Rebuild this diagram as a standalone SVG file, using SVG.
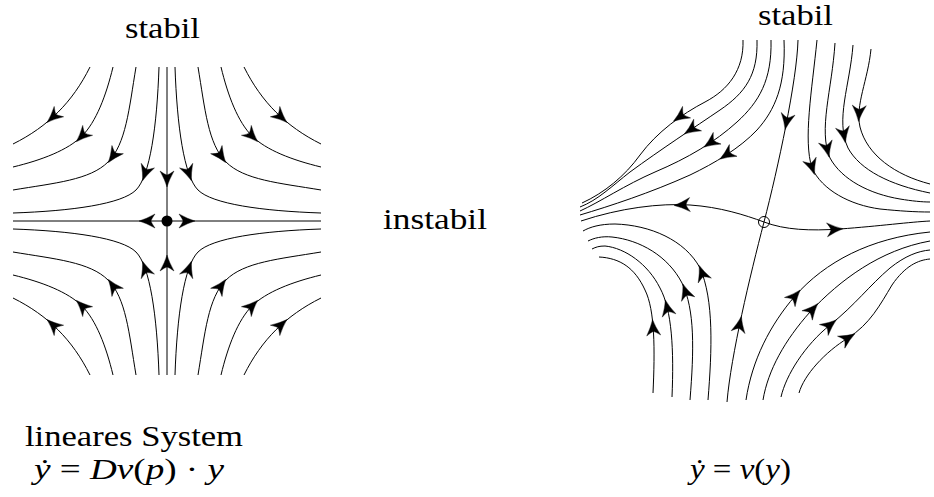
<svg xmlns="http://www.w3.org/2000/svg" xmlns:xlink="http://www.w3.org/1999/xlink" width="934" height="497" viewBox="0 0 934 497">
<style>
.c{fill:none;stroke:#000;stroke-width:1}
.ah{fill:#000;stroke:#000;stroke-width:0.4;stroke-linejoin:miter}
.t{font-family:"Liberation Serif","Times New Roman",serif;font-size:29px;fill:#000}
.i{font-style:italic}
</style>
<defs>
<path id="ah" class="ah" d="M8,0 Q1,2 -8,7 Q-4.5,2.2 -4,0 Q-4.5,-2.2 -8,-7 Q1,-2 8,0 Z"/>
<g id="quad">
<path class="c" d="M-77,-154 C-85.9,-136.2 -96.3,-121.5 -108.9,-108.9 C-121.5,-96.3 -136.2,-85.9 -154,-77"/>
<path class="c" d="M-54,-154 C-61,-125 -71,-99 -85,-85 C-99,-71 -125,-61 -154,-54"/>
<path class="c" d="M-31,-154 C-38,-112 -41,-77 -59,-59 C-77,-41 -112,-38 -154,-31"/>
<path class="c" d="M-8,-154 C-10,-95 -17,-45 -31,-31 C-45,-17 -95,-10 -154,-8"/>
<use xlink:href="#ah" href="#ah" transform="translate(-114,-104) rotate(137.6)"/>
<use xlink:href="#ah" href="#ah" transform="translate(-85,-85) rotate(135)"/>
<use xlink:href="#ah" href="#ah" transform="translate(-54,-64.9) rotate(125.5)"/>
<use xlink:href="#ah" href="#ah" transform="translate(-21.8,-47.8) rotate(109.3)"/>
</g>
</defs>
<rect width="934" height="497" fill="#fff"/>

<g id="linear-portrait">
<g id="left-axes">
<line class="c" x1="13" y1="221" x2="321" y2="221"/>
<line class="c" x1="167" y1="67" x2="167" y2="375"/>
</g>
<g id="left-curves">
<use xlink:href="#quad" href="#quad" transform="translate(167,221)"/>
<use xlink:href="#quad" href="#quad" transform="translate(167,221) scale(-1,1)"/>
<use xlink:href="#quad" href="#quad" transform="translate(167,221) scale(1,-1)"/>
<use xlink:href="#quad" href="#quad" transform="translate(167,221) scale(-1,-1)"/>
</g>
<g id="left-axis-arrows">
<use xlink:href="#ah" href="#ah" transform="translate(167,179) rotate(90)"/>
<use xlink:href="#ah" href="#ah" transform="translate(167,263) rotate(-90)"/>
<use xlink:href="#ah" href="#ah" transform="translate(147,221) rotate(180)"/>
<use xlink:href="#ah" href="#ah" transform="translate(187,221)"/>
</g>
<g id="left-point"><circle cx="167" cy="221" r="5.5" fill="#000"/></g>
</g>

<g id="nonlinear-portrait">
<g id="manifolds">
<path class="c" d="M798,40 C797,80 778,168 764,222 C750,276 731,355 727,402"/>
<path class="c" d="M581,221 C620,208 660,203 690,205 C720,207 745,215 764,222 C785,230 810,231 840,229 C880,226 910,222 930,221"/>
</g>
<g id="top-left-flow">
<path class="c" d="M743,40 C744,70 728,90 705,102 C682,114 657,132 640,155 C625,176 604,193 582,203"/>
<path class="c" d="M757,40 C758,75 745,93 720,110 C695,127 660,150 630,172 C612,186 598,200 580,207"/>
<path class="c" d="M771,40 C772,80 759,102 737,122 C715,142 688,158 655,172 C625,185 600,202 580,211"/>
<path class="c" d="M784,40 C786,85 775,110 757,130 C740,148 715,163 690,175 C650,193 610,206 580,215"/>
</g>
<g id="top-right-flow">
<path class="c" d="M817,40 C812,90 803,140 812,168 C822,190 850,205 880,209 C900,211 915,212 930,212"/>
<path class="c" d="M835,43 C832,90 818,130 830,158 C842,180 870,194 900,199 C912,201 922,202 930,202"/>
<path class="c" d="M853,45 C850,85 835,120 848,148 C860,170 890,185 930,193"/>
<path class="c" d="M871,49 C868,80 855,105 860,127 C867,155 895,175 930,184"/>
</g>
<g id="bottom-left-flow">
<path class="c" d="M708,400 C712,350 714,300 700,268 C685,240 650,225 615,224 C600,224 590,227 583,231"/>
<path class="c" d="M690,400 C694,350 695,310 682,283 C668,256 640,240 612,237 C602,236 594,238 588,241"/>
<path class="c" d="M672,397 C674,350 672,310 660,288 C648,264 625,248 605,246 C599,246 596,247 592,249"/>
<path class="c" d="M653,393 C655,350 655,310 645,290 C635,268 620,258 599,257"/>
</g>
<g id="bottom-right-flow">
<path class="c" d="M746,400 C752,360 770,325 795,296 C825,262 870,238 930,232"/>
<path class="c" d="M763,400 C768,370 785,340 810,312 C840,280 880,250 930,241"/>
<path class="c" d="M781,397 C786,375 805,345 830,325 C855,305 870,285 890,268 C905,256 918,251 930,250"/>
<path class="c" d="M799,393 C804,375 825,352 848,338 C870,324 880,305 892,285 C905,266 918,260 930,259"/>
</g>
<g id="right-arrows">
<use xlink:href="#ah" href="#ah" transform="translate(786.6,121.7) rotate(100.9)"/>
<use xlink:href="#ah" href="#ah" transform="translate(739.7,324.3) rotate(-78.2)"/>
<use xlink:href="#ah" href="#ah" transform="translate(682,205) rotate(177)"/>
<use xlink:href="#ah" href="#ah" transform="translate(835,229.3) rotate(-4)"/>
<use xlink:href="#ah" href="#ah" transform="translate(680,116.7) rotate(145.2)"/>
<use xlink:href="#ah" href="#ah" transform="translate(691,129.5) rotate(146)"/>
<use xlink:href="#ah" href="#ah" transform="translate(710.5,142.7) rotate(146.2)"/>
<use xlink:href="#ah" href="#ah" transform="translate(726.5,154.8) rotate(146.9)"/>
<use xlink:href="#ah" href="#ah" transform="translate(812,167) rotate(72)"/>
<use xlink:href="#ah" href="#ah" transform="translate(827.2,149.3) rotate(76.7)"/>
<use xlink:href="#ah" href="#ah" transform="translate(843.9,134.9) rotate(79.6)"/>
<use xlink:href="#ah" href="#ah" transform="translate(858.9,113.4) rotate(92.7)"/>
<use xlink:href="#ah" href="#ah" transform="translate(702,273) rotate(-110.2)"/>
<use xlink:href="#ah" href="#ah" transform="translate(685.5,291.5) rotate(-109.2)"/>
<use xlink:href="#ah" href="#ah" transform="translate(667.2,307.7) rotate(-103.7)"/>
<use xlink:href="#ah" href="#ah" transform="translate(653.1,327.5) rotate(-94.3)"/>
<use xlink:href="#ah" href="#ah" transform="translate(795,296) rotate(-49.2)"/>
<use xlink:href="#ah" href="#ah" transform="translate(812.5,309.5) rotate(-48)"/>
<use xlink:href="#ah" href="#ah" transform="translate(830,325) rotate(-38.7)"/>
<use xlink:href="#ah" href="#ah" transform="translate(848,338) rotate(-31.3)"/>
</g>
<g id="right-point"><circle cx="764" cy="222" r="5.5" fill="none" stroke="#000" stroke-width="1"/></g>
</g>

<g id="labels">
<text class="t" x="125" y="38" textLength="75" lengthAdjust="spacingAndGlyphs">stabil</text>
<text class="t" x="383" y="229" textLength="104" lengthAdjust="spacingAndGlyphs">instabil</text>
<text class="t" x="758" y="25" textLength="75" lengthAdjust="spacingAndGlyphs">stabil</text>
<text class="t" x="25" y="446" textLength="218" lengthAdjust="spacingAndGlyphs">lineares System</text>
<text class="t" x="34" y="479" textLength="190" lengthAdjust="spacingAndGlyphs"><tspan class="i">ẏ</tspan> = <tspan class="i">Dv</tspan>(<tspan class="i">p</tspan>) · <tspan class="i">y</tspan></text>
<text class="t" x="690" y="479" textLength="101" lengthAdjust="spacingAndGlyphs"><tspan class="i">ẏ</tspan> = <tspan class="i">v</tspan>(<tspan class="i">y</tspan>)</text>
</g>
</svg>
